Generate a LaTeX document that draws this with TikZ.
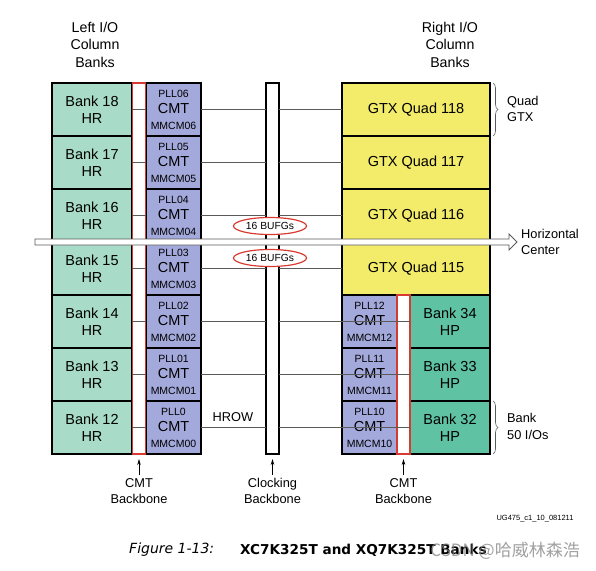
\documentclass[tikz,border=0pt]{standalone}
\usepackage{fontspec}
\setmainfont{Liberation Sans}
\newfontfamily\capfont{DejaVu Sans}
\newfontfamily\cjkfont{Noto Sans CJK SC}
\usetikzlibrary{shapes.geometric,decorations.pathreplacing,arrows.meta}
\definecolor{hr}{HTML}{A8DCC8}
\definecolor{hp}{HTML}{5FC3A3}
\definecolor{cmtc}{HTML}{A3A9DB}
\definecolor{gtx}{HTML}{F2EC6A}
\definecolor{bred}{HTML}{D63A30}
\definecolor{wire}{HTML}{5A5A5A}
\newcommand\fsz[2]{\fontsize{#1}{#2}\selectfont}
\tikzset{
  box/.style={draw=black, line width=1.5pt, minimum height=53pt, inner sep=0pt, outer sep=0pt, align=center, font=\fsz{14.5}{17}},
  hrbank/.style={box, fill=hr, minimum width=80pt},
  hpbank/.style={box, fill=hp, minimum width=80pt},
  cmtbox/.style={box, fill=cmtc, minimum width=55pt},
  gtxbox/.style={box, fill=gtx, minimum width=148pt},
  stripe/.style={draw=bred, fill=white, line width=1.5pt, inner sep=0pt, outer sep=0pt, minimum width=13pt},
  clkbone/.style={draw=black, fill=white, line width=1.5pt, inner sep=0pt, outer sep=0pt, minimum width=13pt, minimum height=371pt},
  smalltxt/.style={font=\fsz{10.5}{12}, inner sep=0pt},
  cmttxt/.style={font=\fsz{14.5}{17}, inner sep=0pt},
  wireline/.style={draw=wire, line width=0.6pt},
  bufg/.style={ellipse, draw=bred, line width=1.2pt, fill=white, minimum width=73pt, minimum height=17pt, inner sep=0pt, font=\fsz{10.3}{12}},
  lbl/.style={font=\fsz{12.8}{16.5}, align=center, inner sep=0pt},
  brace/.style={draw=wire, line width=0.6pt, decorate, decoration={brace, amplitude=5pt}},
  uparrow/.style={draw=black, line width=0.6pt, -{Stealth[length=6pt,width=3.5pt]}, shorten >=5pt, shorten <=3pt},
  title/.style={font=\fsz{14.2}{17.5}, align=center, inner sep=0pt}
}
\begin{document}
\begin{tikzpicture}[x=1pt,y=-1pt]
\useasboundingbox (0,0) rectangle (596,570);
% titles
\node[title] (ltitle) at (95,44.5) {Left I/O\\Column\\Banks};
\node[title] (rtitle) at (450,44.5) {Right I/O\\Column\\Banks};
% left banks and CMTs
\foreach \i/\n/\p in {0/18/06,1/17/05,2/16/04,3/15/03,4/14/02,5/13/01,6/12/0} {
  \node[hrbank] (lb\i) at (92,{109.5+53*\i}) {Bank \n\\HR};
  \node[cmtbox] (lc\i) at (173.5,{109.5+53*\i}) {};
}
\foreach \i/\p/\m in {0/06/06,1/05/05,2/04/04,3/03/03,4/02/02,5/01/01,6/0/00} {
  \node[smalltxt] (lcp\i) at ([yshift=-11pt]lc\i.north) {PLL\p};
  \node[cmttxt] (lcc\i) at ([yshift=-26pt]lc\i.north) {CMT};
  \node[smalltxt] (lcm\i) at ([yshift=-43pt]lc\i.north) {MMCM\m};
}
% right GTX
\foreach \i/\q in {0/118,1/117,2/116,3/115} {
  \node[gtxbox] (r\i) at (416,{109.5+53*\i}) {GTX Quad \q};
}
% right CMT and HP banks
\foreach \i/\n/\p in {4/34/12,5/33/11,6/32/10} {
  \node[cmtbox] (rc\i) at (369.5,{109.5+53*\i}) {};
  \node[smalltxt] (rcp\i) at ([yshift=-11pt]rc\i.north) {PLL\p};
  \node[cmttxt] (rcc\i) at ([yshift=-26pt]rc\i.north) {CMT};
  \node[smalltxt] (rcm\i) at ([yshift=-43pt]rc\i.north) {MMCM\p};
  \node[hpbank] (r\i) at (450,{109.5+53*\i}) {Bank \n\\HP};
}
% backbones
\node[stripe, minimum height=371pt] (lbb) at (139,268.5) {};
\node[stripe, minimum height=159pt] (rbb) at (403.5,374.5) {};
\node[clkbone] (clk) at (272.5,268.5) {};
% wires inside CMT backbones
\foreach \i in {0,...,6} {
  \draw[wireline] (lb\i.east) -- (lc\i.west);
  \draw[wireline] (lc\i.east) -- (lc\i.east -| clk.west);
  \draw[wireline] (clk.east |- r\i.west) -- (r\i.west);
}
\foreach \i in {4,5,6} {
  \draw[wireline] (rc\i.east) -- (r\i.west);
}
% horizontal center arrow
\draw[draw=wire, line width=0.8pt, fill=white] (35,239) -- (509,239) -- (509,234) -- (517,242) -- (509,250) -- (509,245) -- (35,245) -- cycle;
\node[lbl, align=left, anchor=west] (hc) at (521,242) {Horizontal\\Center};
% BUFGs
\node[bufg] (bufg1) at (270,226) {16 BUFGs};
\node[bufg] (bufg2) at (270,258) {16 BUFGs};
\node[lbl] (hrow) at (233,417) {HROW};
% braces
\draw[brace] ([xshift=3pt]r0.north east) -- ([xshift=3pt]r0.south east);
\node[lbl, align=left, anchor=west] (qgtx) at (507,109) {Quad\\GTX};
\draw[brace] ([xshift=3pt]r6.north east) -- ([xshift=3pt]r6.south east);
\node[lbl, align=left, anchor=west] (b50) at (507,426.5) {Bank\\50 I/Os};
% bottom labels
\node[lbl, anchor=north] (lcb) at (139,478) {CMT\\Backbone};
\node[lbl, anchor=north] (ckb) at (272.5,478) {Clocking\\Backbone};
\node[lbl, anchor=north] (rcb) at (403.5,478) {CMT\\Backbone};
\draw[uparrow] (lcb.north) -- (lbb.south);
\draw[uparrow] (ckb.north) -- (clk.south);
\draw[uparrow] (rcb.north) -- (rbb.south);
\node[font=\fsz{7.5}{9}, inner sep=0pt] (ug) at (535,519) {UG475\_c1\_10\_081211};
% caption
\node[font=\capfont\itshape\fsz{14}{16}, anchor=west, inner sep=0pt] (figno) at (129,550) {Figure 1-13:};
\node[font=\capfont\bfseries\fsz{13.6}{16}, anchor=west, inner sep=0pt] (figcap) at (240,550) {XC7K325T and XQ7K325T Banks};
\node[font=\cjkfont\fsz{17}{20}, text=gray, opacity=0.75, anchor=east, inner sep=0pt] (wm) at (580,551) {CSDN @哈威林森浩};
\end{tikzpicture}
\end{document}
